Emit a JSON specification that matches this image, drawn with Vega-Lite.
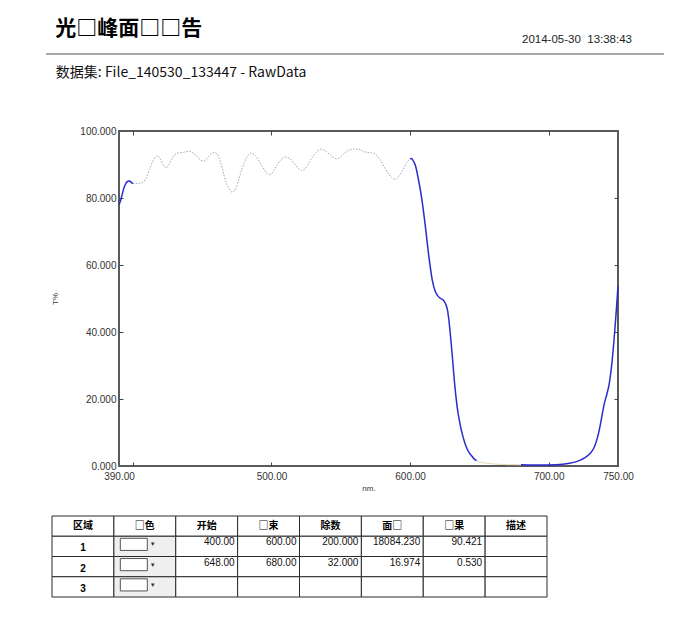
{
  "$schema": "https://vega.github.io/schema/vega-lite/v6.json",
  "background": "white",
  "padding": {"left": 45, "top": 17, "right": 0, "bottom": 0},
  "config": {"view": {"stroke": null}, "font": "Liberation Sans"},
  "title": {"text": "光□峰面□□告", "anchor": "start", "frame": "bounds", "fontSize": 21, "fontWeight": "bold", "font": "Noto Sans CJK SC", "color": "#000000", "dx": 10, "offset": -5},
  "align": "none",
  "datasets": {
    "spectrum": [
      {"nm": 390, "T": 78.0, "seg": "A", "kind": "blue"},
      {"nm": 391, "T": 79.0, "seg": "A", "kind": "blue"},
      {"nm": 392, "T": 80.6, "seg": "A", "kind": "blue"},
      {"nm": 393, "T": 82.2, "seg": "A", "kind": "blue"},
      {"nm": 394, "T": 83.5, "seg": "A", "kind": "blue"},
      {"nm": 395, "T": 84.4, "seg": "A", "kind": "blue"},
      {"nm": 396, "T": 84.9, "seg": "A", "kind": "blue"},
      {"nm": 397, "T": 85.1, "seg": "A", "kind": "blue"},
      {"nm": 398, "T": 85.0, "seg": "A", "kind": "blue"},
      {"nm": 399, "T": 84.6, "seg": "A", "kind": "blue"},
      {"nm": 400, "T": 84.3, "seg": "A", "kind": "blue"},
      {"nm": 400, "T": 84.3, "seg": "B", "kind": "gray"},
      {"nm": 403, "T": 84.3, "seg": "B", "kind": "gray"},
      {"nm": 406, "T": 84.5, "seg": "B", "kind": "gray"},
      {"nm": 409, "T": 85.5, "seg": "B", "kind": "gray"},
      {"nm": 412, "T": 88.5, "seg": "B", "kind": "gray"},
      {"nm": 415, "T": 91.5, "seg": "B", "kind": "gray"},
      {"nm": 417.5, "T": 92.6, "seg": "B", "kind": "gray"},
      {"nm": 420, "T": 91.5, "seg": "B", "kind": "gray"},
      {"nm": 422, "T": 89.8, "seg": "B", "kind": "gray"},
      {"nm": 424, "T": 89.0, "seg": "B", "kind": "gray"},
      {"nm": 426, "T": 90.0, "seg": "B", "kind": "gray"},
      {"nm": 429, "T": 92.3, "seg": "B", "kind": "gray"},
      {"nm": 432, "T": 93.4, "seg": "B", "kind": "gray"},
      {"nm": 436, "T": 93.6, "seg": "B", "kind": "gray"},
      {"nm": 440, "T": 93.9, "seg": "B", "kind": "gray"},
      {"nm": 443, "T": 93.6, "seg": "B", "kind": "gray"},
      {"nm": 446, "T": 92.5, "seg": "B", "kind": "gray"},
      {"nm": 449, "T": 91.3, "seg": "B", "kind": "gray"},
      {"nm": 451, "T": 91.0, "seg": "B", "kind": "gray"},
      {"nm": 454, "T": 92.0, "seg": "B", "kind": "gray"},
      {"nm": 457, "T": 93.3, "seg": "B", "kind": "gray"},
      {"nm": 459, "T": 93.6, "seg": "B", "kind": "gray"},
      {"nm": 461, "T": 93.0, "seg": "B", "kind": "gray"},
      {"nm": 463, "T": 91.0, "seg": "B", "kind": "gray"},
      {"nm": 465, "T": 88.0, "seg": "B", "kind": "gray"},
      {"nm": 467, "T": 85.0, "seg": "B", "kind": "gray"},
      {"nm": 469, "T": 83.0, "seg": "B", "kind": "gray"},
      {"nm": 471.5, "T": 81.8, "seg": "B", "kind": "gray"},
      {"nm": 474, "T": 82.5, "seg": "B", "kind": "gray"},
      {"nm": 476, "T": 85.0, "seg": "B", "kind": "gray"},
      {"nm": 479, "T": 89.0, "seg": "B", "kind": "gray"},
      {"nm": 482, "T": 92.0, "seg": "B", "kind": "gray"},
      {"nm": 485, "T": 93.4, "seg": "B", "kind": "gray"},
      {"nm": 488, "T": 92.8, "seg": "B", "kind": "gray"},
      {"nm": 491, "T": 91.0, "seg": "B", "kind": "gray"},
      {"nm": 494, "T": 89.0, "seg": "B", "kind": "gray"},
      {"nm": 497, "T": 87.3, "seg": "B", "kind": "gray"},
      {"nm": 499, "T": 87.0, "seg": "B", "kind": "gray"},
      {"nm": 501, "T": 87.8, "seg": "B", "kind": "gray"},
      {"nm": 504, "T": 89.8, "seg": "B", "kind": "gray"},
      {"nm": 507, "T": 91.5, "seg": "B", "kind": "gray"},
      {"nm": 510, "T": 92.2, "seg": "B", "kind": "gray"},
      {"nm": 513, "T": 91.8, "seg": "B", "kind": "gray"},
      {"nm": 516, "T": 90.5, "seg": "B", "kind": "gray"},
      {"nm": 519, "T": 89.0, "seg": "B", "kind": "gray"},
      {"nm": 522, "T": 88.2, "seg": "B", "kind": "gray"},
      {"nm": 524, "T": 88.6, "seg": "B", "kind": "gray"},
      {"nm": 527, "T": 90.5, "seg": "B", "kind": "gray"},
      {"nm": 530, "T": 92.5, "seg": "B", "kind": "gray"},
      {"nm": 533, "T": 94.0, "seg": "B", "kind": "gray"},
      {"nm": 536, "T": 94.6, "seg": "B", "kind": "gray"},
      {"nm": 539, "T": 94.0, "seg": "B", "kind": "gray"},
      {"nm": 542, "T": 93.0, "seg": "B", "kind": "gray"},
      {"nm": 545, "T": 92.0, "seg": "B", "kind": "gray"},
      {"nm": 547, "T": 91.7, "seg": "B", "kind": "gray"},
      {"nm": 550, "T": 92.3, "seg": "B", "kind": "gray"},
      {"nm": 553, "T": 93.5, "seg": "B", "kind": "gray"},
      {"nm": 556, "T": 94.3, "seg": "B", "kind": "gray"},
      {"nm": 560, "T": 94.6, "seg": "B", "kind": "gray"},
      {"nm": 563, "T": 94.5, "seg": "B", "kind": "gray"},
      {"nm": 566, "T": 94.0, "seg": "B", "kind": "gray"},
      {"nm": 569, "T": 93.6, "seg": "B", "kind": "gray"},
      {"nm": 572, "T": 93.5, "seg": "B", "kind": "gray"},
      {"nm": 575, "T": 93.0, "seg": "B", "kind": "gray"},
      {"nm": 578, "T": 91.7, "seg": "B", "kind": "gray"},
      {"nm": 581, "T": 89.5, "seg": "B", "kind": "gray"},
      {"nm": 584, "T": 87.5, "seg": "B", "kind": "gray"},
      {"nm": 587, "T": 86.0, "seg": "B", "kind": "gray"},
      {"nm": 589.5, "T": 85.6, "seg": "B", "kind": "gray"},
      {"nm": 592, "T": 86.5, "seg": "B", "kind": "gray"},
      {"nm": 595, "T": 88.5, "seg": "B", "kind": "gray"},
      {"nm": 598, "T": 90.8, "seg": "B", "kind": "gray"},
      {"nm": 600, "T": 91.7, "seg": "B", "kind": "gray"},
      {"nm": 600, "T": 91.7, "seg": "C", "kind": "blue"},
      {"nm": 601, "T": 91.8, "seg": "C", "kind": "blue"},
      {"nm": 602, "T": 91.3, "seg": "C", "kind": "blue"},
      {"nm": 604, "T": 89.5, "seg": "C", "kind": "blue"},
      {"nm": 606, "T": 85.6, "seg": "C", "kind": "blue"},
      {"nm": 608.5, "T": 79.6, "seg": "C", "kind": "blue"},
      {"nm": 611, "T": 71.6, "seg": "C", "kind": "blue"},
      {"nm": 613.5, "T": 62.7, "seg": "C", "kind": "blue"},
      {"nm": 616, "T": 55.5, "seg": "C", "kind": "blue"},
      {"nm": 618, "T": 52.3, "seg": "C", "kind": "blue"},
      {"nm": 620, "T": 50.8, "seg": "C", "kind": "blue"},
      {"nm": 622, "T": 50.0, "seg": "C", "kind": "blue"},
      {"nm": 624, "T": 49.5, "seg": "C", "kind": "blue"},
      {"nm": 625.5, "T": 48.5, "seg": "C", "kind": "blue"},
      {"nm": 627, "T": 46.5, "seg": "C", "kind": "blue"},
      {"nm": 628, "T": 43.5, "seg": "C", "kind": "blue"},
      {"nm": 630, "T": 35.0, "seg": "C", "kind": "blue"},
      {"nm": 632.5, "T": 23.0, "seg": "C", "kind": "blue"},
      {"nm": 634, "T": 17.5, "seg": "C", "kind": "blue"},
      {"nm": 636, "T": 12.6, "seg": "C", "kind": "blue"},
      {"nm": 638, "T": 9.0, "seg": "C", "kind": "blue"},
      {"nm": 640, "T": 6.3, "seg": "C", "kind": "blue"},
      {"nm": 642, "T": 4.4, "seg": "C", "kind": "blue"},
      {"nm": 644.5, "T": 3.0, "seg": "C", "kind": "blue"},
      {"nm": 646, "T": 2.2, "seg": "C", "kind": "blue"},
      {"nm": 648, "T": 1.6, "seg": "C", "kind": "blue"},
      {"nm": 648, "T": 1.6, "seg": "D", "kind": "faint"},
      {"nm": 652, "T": 1.0, "seg": "D", "kind": "faint"},
      {"nm": 656, "T": 0.8, "seg": "D", "kind": "faint"},
      {"nm": 660, "T": 0.6, "seg": "D", "kind": "faint"},
      {"nm": 665, "T": 0.5, "seg": "D", "kind": "faint"},
      {"nm": 670, "T": 0.4, "seg": "D", "kind": "faint"},
      {"nm": 675, "T": 0.4, "seg": "D", "kind": "faint"},
      {"nm": 680, "T": 0.35, "seg": "D", "kind": "faint"},
      {"nm": 680, "T": 0.35, "seg": "E", "kind": "blue"},
      {"nm": 685, "T": 0.3, "seg": "E", "kind": "blue"},
      {"nm": 690, "T": 0.3, "seg": "E", "kind": "blue"},
      {"nm": 695, "T": 0.3, "seg": "E", "kind": "blue"},
      {"nm": 700, "T": 0.3, "seg": "E", "kind": "blue"},
      {"nm": 705, "T": 0.35, "seg": "E", "kind": "blue"},
      {"nm": 710, "T": 0.5, "seg": "E", "kind": "blue"},
      {"nm": 715, "T": 0.8, "seg": "E", "kind": "blue"},
      {"nm": 720, "T": 1.3, "seg": "E", "kind": "blue"},
      {"nm": 724, "T": 2.0, "seg": "E", "kind": "blue"},
      {"nm": 727, "T": 2.7, "seg": "E", "kind": "blue"},
      {"nm": 730, "T": 3.8, "seg": "E", "kind": "blue"},
      {"nm": 732.5, "T": 5.3, "seg": "E", "kind": "blue"},
      {"nm": 734.5, "T": 7.5, "seg": "E", "kind": "blue"},
      {"nm": 736.3, "T": 10.4, "seg": "E", "kind": "blue"},
      {"nm": 738, "T": 14.0, "seg": "E", "kind": "blue"},
      {"nm": 740, "T": 18.4, "seg": "E", "kind": "blue"},
      {"nm": 742, "T": 21.5, "seg": "E", "kind": "blue"},
      {"nm": 743.6, "T": 24.4, "seg": "E", "kind": "blue"},
      {"nm": 745, "T": 28.5, "seg": "E", "kind": "blue"},
      {"nm": 746, "T": 32.3, "seg": "E", "kind": "blue"},
      {"nm": 747, "T": 37.0, "seg": "E", "kind": "blue"},
      {"nm": 748.4, "T": 44.3, "seg": "E", "kind": "blue"},
      {"nm": 749.3, "T": 49.5, "seg": "E", "kind": "blue"},
      {"nm": 750, "T": 53.7, "seg": "E", "kind": "blue"}
    ],
    "table": [
      {"row": "h", "col": "区域", "text": "区域"},
      {"row": "h", "col": "□色", "text": "□色"},
      {"row": "h", "col": "开始", "text": "开始"},
      {"row": "h", "col": "□束", "text": "□束"},
      {"row": "h", "col": "除数", "text": "除数"},
      {"row": "h", "col": "面□", "text": "面□"},
      {"row": "h", "col": "□果", "text": "□果"},
      {"row": "h", "col": "描述", "text": "描述"},
      {"row": "1", "col": "区域", "text": "1"},
      {"row": "1", "col": "□色", "text": ""},
      {"row": "1", "col": "开始", "text": "400.00"},
      {"row": "1", "col": "□束", "text": "600.00"},
      {"row": "1", "col": "除数", "text": "200.000"},
      {"row": "1", "col": "面□", "text": "18084.230"},
      {"row": "1", "col": "□果", "text": "90.421"},
      {"row": "1", "col": "描述", "text": ""},
      {"row": "2", "col": "区域", "text": "2"},
      {"row": "2", "col": "□色", "text": ""},
      {"row": "2", "col": "开始", "text": "648.00"},
      {"row": "2", "col": "□束", "text": "680.00"},
      {"row": "2", "col": "除数", "text": "32.000"},
      {"row": "2", "col": "面□", "text": "16.974"},
      {"row": "2", "col": "□果", "text": "0.530"},
      {"row": "2", "col": "描述", "text": ""},
      {"row": "3", "col": "区域", "text": "3"},
      {"row": "3", "col": "□色", "text": ""},
      {"row": "3", "col": "开始", "text": ""},
      {"row": "3", "col": "□束", "text": ""},
      {"row": "3", "col": "除数", "text": ""},
      {"row": "3", "col": "面□", "text": ""},
      {"row": "3", "col": "□果", "text": ""},
      {"row": "3", "col": "描述", "text": ""}
    ],
    "header": [{"k": 0}]
  },
  "spacing": 10,
  "vconcat": [
    {
      "width": 513,
      "height": 1,
      "data": {"name": "header"},
      "title": {"text": "2014-05-30\u00a0\u00a013:38:43", "anchor": "end", "frame": "group", "fontSize": 11.5, "fontWeight": "normal", "font": "Liberation Sans", "color": "#222222", "offset": 8},
      "mark": {"type": "rule", "color": "#8a8a8a", "strokeWidth": 1.5},
      "encoding": {
        "x": {"datum": 0, "type": "quantitative", "axis": null, "scale": {"domain": [0, 1], "range": [-73, 545]}},
        "x2": {"datum": 1},
        "y": {"datum": 0, "type": "quantitative", "axis": null, "scale": {"domain": [0, 1]}}
      }
    },
    {
      "width": 499,
      "height": 335,
      "view": {"stroke": "#5a5a5a", "strokeWidth": 2},
      "title": {"text": "数据集: File_140530_133447 - RawData", "anchor": "start", "frame": "bounds", "fontSize": 14, "fontWeight": "normal", "font": "Noto Sans CJK SC", "color": "#111111", "dx": 4, "offset": 46},
      "data": {"name": "spectrum"},
      "resolve": {"axis": {"x": "independent", "y": "independent"}},
      "layer": [
        {
          "transform": [{"filter": "datum.kind == 'gray'"}],
          "mark": {"type": "line", "color": "#a3a3bd", "strokeWidth": 1, "strokeDash": [1.5, 1.5], "interpolate": "monotone"},
          "encoding": {
            "x": {"field": "nm", "type": "quantitative", "scale": {"domain": [390, 750], "nice": false, "zero": false},
              "axis": {"orient": "bottom", "values": [390, 400, 500, 600, 700, 750], "labelExpr": "datum.value == 400 ? '' : format(datum.value, '.2f')", "tickSize": -4, "tickColor": "#444444", "tickWidth": 1, "tickOpacity": {"condition": {"test": "datum.value == 390 || datum.value == 750", "value": 0}, "value": 1}, "domain": false, "grid": false, "labelFontSize": 10, "labelColor": "#333333", "labelPadding": 9, "labelFlush": false, "labelOverlap": false, "title": "nm.", "titleFontSize": 8, "titleFontWeight": "normal", "titleColor": "#333333", "titlePadding": 3}},
            "y": {"field": "T", "type": "quantitative", "scale": {"domain": [0, 100], "nice": false},
              "axis": {"orient": "left", "values": [0, 20, 40, 60, 80, 100], "format": ".3f", "tickSize": -4, "tickColor": "#444444", "tickWidth": 1, "tickOpacity": {"condition": {"test": "datum.value == 0 || datum.value == 100", "value": 0}, "value": 1}, "domain": false, "grid": false, "labelFontSize": 10, "labelColor": "#333333", "labelPadding": 7, "title": "T%", "titleFontSize": 8, "titleFontWeight": "normal", "titleColor": "#333333", "titlePadding": 20}},
            "detail": {"field": "seg", "type": "nominal"}
          }
        },
        {
          "transform": [{"filter": "datum.kind == 'faint'"}],
          "mark": {"type": "line", "color": "#e4dcb4", "strokeWidth": 1, "interpolate": "monotone"},
          "encoding": {
            "x": {"field": "nm", "type": "quantitative", "scale": {"domain": [390, 750], "nice": false, "zero": false}, "axis": null},
            "y": {"field": "T", "type": "quantitative", "scale": {"domain": [0, 100], "nice": false}, "axis": null},
            "detail": {"field": "seg", "type": "nominal"}
          }
        },
        {
          "transform": [{"filter": "datum.kind == 'blue'"}],
          "mark": {"type": "line", "color": "#2b2bd0", "strokeWidth": 1.5, "interpolate": "monotone"},
          "encoding": {
            "x": {"field": "nm", "type": "quantitative", "scale": {"domain": [390, 750], "nice": false, "zero": false},
              "axis": {"orient": "top", "values": [400, 500, 600, 700], "labels": false, "tickSize": -4, "tickColor": "#444444", "tickWidth": 1, "domain": false, "grid": false, "title": null}},
            "y": {"field": "T", "type": "quantitative", "scale": {"domain": [0, 100], "nice": false},
              "axis": {"orient": "right", "values": [20, 40, 60, 80], "labels": false, "tickSize": -4, "tickColor": "#444444", "tickWidth": 1, "domain": false, "grid": false, "title": null}},
            "detail": {"field": "seg", "type": "nominal"}
          }
        }
      ]
    },
    {
      "width": 428,
      "height": 81,
      "data": {"name": "table"},
      "title": {"text": "\u00a0", "fontSize": 2, "offset": 10, "anchor": "start"},
      "encoding": {
        "x": {"field": "col", "type": "nominal", "sort": ["区域", "□色", "开始", "□束", "除数", "面□", "□果", "描述"], "axis": null, "scale": {"paddingInner": 0, "paddingOuter": 0, "range": [-67, 428]}},
        "y": {"field": "row", "type": "nominal", "sort": ["h", "1", "2", "3"], "axis": null, "scale": {"paddingInner": 0, "paddingOuter": 0}}
      },
      "layer": [
        {
          "mark": {"type": "rect", "stroke": "#2a2a2a", "strokeWidth": 1},
          "encoding": {"fill": {"condition": {"test": "datum.col == '□色' && datum.row != 'h'", "value": "#efefef"}, "value": "#ffffff"}}
        },
        {
          "transform": [{"filter": "datum.col == '□色' && datum.row != 'h'"}],
          "mark": {"type": "point", "shape": "M-1,-0.45H1V0.45H-1Z", "size": 729, "filled": true, "fill": "#ffffff", "stroke": "#555555", "strokeWidth": 1, "opacity": 1, "xOffset": -11, "yOffset": -2}
        },
        {
          "transform": [{"filter": "datum.col == '□色' && datum.row != 'h'"}],
          "mark": {"type": "text", "text": "▼", "fontSize": 6, "color": "#333333", "xOffset": 8, "yOffset": -2}
        },
        {
          "transform": [{"filter": "datum.row == 'h'"}],
          "mark": {"type": "text", "font": "Noto Sans CJK SC", "fontWeight": "bold", "fontSize": 10, "color": "#000000"},
          "encoding": {"text": {"field": "text"}}
        },
        {
          "transform": [{"filter": "datum.row != 'h' && datum.col == '区域'"}],
          "mark": {"type": "text", "font": "Liberation Sans", "fontWeight": "bold", "fontSize": 10, "color": "#000000", "yOffset": 2},
          "encoding": {"text": {"field": "text"}}
        },
        {
          "transform": [{"filter": "datum.row != 'h' && datum.col != '区域' && datum.col != '□色'"}],
          "mark": {"type": "text", "font": "Liberation Sans", "fontSize": 10, "color": "#111111", "align": "right", "dx": -3},
          "encoding": {
            "text": {"field": "text"},
            "x": {"field": "col", "type": "nominal", "sort": ["区域", "□色", "开始", "□束", "除数", "面□", "□果", "描述"], "bandPosition": 1},
            "y": {"field": "row", "type": "nominal", "sort": ["h", "1", "2", "3"], "bandPosition": 0.3}
          }
        }
      ]
    }
  ]
}
